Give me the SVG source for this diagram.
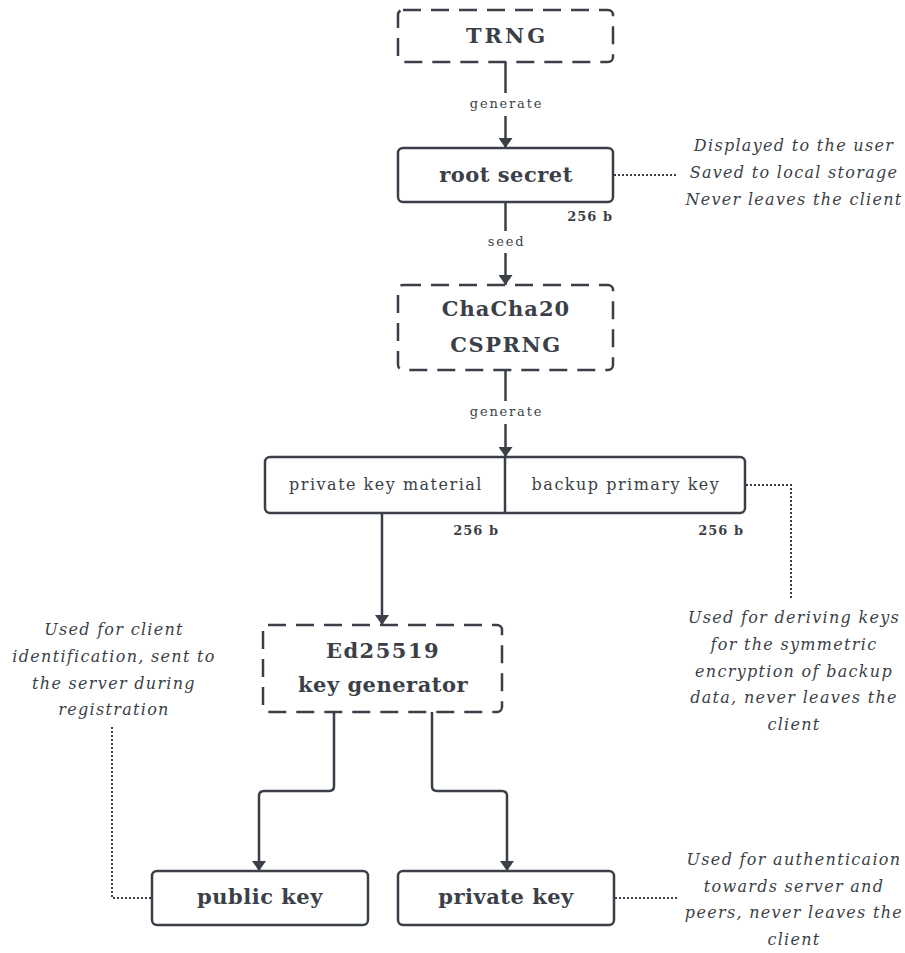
<svg xmlns="http://www.w3.org/2000/svg" width="905" height="953" viewBox="0 0 905 953">
<style>
.bg{fill:#ffffff}
.box{fill:#ffffff;stroke:#3a3f48;stroke-width:2.5}
.dash{stroke-dasharray:18 10}
.ln{fill:none;stroke:#3a3f48;stroke-width:2.5}
.dot{fill:none;stroke:#3a3f48;stroke-width:2;stroke-dasharray:2 2}
text{fill:#3a3f48;font-family:"DejaVu Serif","Liberation Serif",serif;text-anchor:middle}
.nt{font-size:21px;font-weight:bold;letter-spacing:0.5px}
.st{font-size:16px;letter-spacing:1.5px}
.lb{font-size:13px;letter-spacing:1.8px}
.sz{font-size:13px;font-weight:bold;letter-spacing:1px;text-anchor:end}
.an{font-size:16px;font-style:italic;letter-spacing:1.3px}
</style>
<defs>
<marker id="ah" viewBox="0 0 10 14" refX="10" refY="7" markerWidth="10" markerHeight="14" markerUnits="userSpaceOnUse" orient="auto">
<path d="M0,0 L10,7 L0,14 Z" fill="#3a3f48"/>
</marker>
</defs>
<rect class="bg" x="0" y="0" width="905" height="953"/>

<g id="connectors">
<line class="ln" x1="505.5" y1="62" x2="505.5" y2="93"/>
<line class="ln" x1="505.5" y1="116" x2="505.5" y2="148" marker-end="url(#ah)"/>
<text class="lb" x="506.5" y="108">generate</text>

<line class="ln" x1="505.5" y1="202" x2="505.5" y2="231"/>
<line class="ln" x1="505.5" y1="253" x2="505.5" y2="285" marker-end="url(#ah)"/>
<text class="lb" x="506.5" y="246">seed</text>

<line class="ln" x1="505.5" y1="370" x2="505.5" y2="401"/>
<line class="ln" x1="505.5" y1="424" x2="505.5" y2="457" marker-end="url(#ah)"/>
<text class="lb" x="506.5" y="416">generate</text>

<line class="ln" x1="382" y1="513" x2="382" y2="625" marker-end="url(#ah)"/>

<path class="ln" d="M334,712 V786 Q334,791 329,791 H264 Q259,791 259,796 V871" marker-end="url(#ah)"/>
<path class="ln" d="M432,712 V786 Q432,791 437,791 H502 Q507,791 507,796 V871" marker-end="url(#ah)"/>

<line class="dot" x1="614" y1="175" x2="676" y2="175"/>
<path class="dot" d="M746,485 H791 V598"/>
<path class="dot" d="M112,727 V898 H151"/>
<line class="dot" x1="615" y1="898" x2="677" y2="898"/>
</g>

<g id="trng">
<rect class="box dash" x="398" y="10" width="215" height="52" rx="5"/>
<text class="nt" x="507" y="43" style="letter-spacing:3px">TRNG</text>
</g>

<g id="root-secret">
<rect class="box" x="398" y="148" width="215" height="54" rx="5"/>
<text class="nt" x="506" y="182">root secret</text>
<text class="sz" x="613" y="221">256 b</text>
</g>

<g id="root-note">
<text class="an" x="794" y="151">Displayed to the user</text>
<text class="an" x="794" y="178">Saved to local storage</text>
<text class="an" x="794" y="205">Never leaves the client</text>
</g>

<g id="chacha">
<rect class="box dash" x="398" y="285" width="215" height="85" rx="5"/>
<text class="nt" x="506" y="316" style="letter-spacing:1px">ChaCha20</text>
<text class="nt" x="506" y="352" style="letter-spacing:1.5px">CSPRNG</text>
</g>

<g id="key-material">
<rect class="box" x="265" y="457" width="480" height="56" rx="5"/>
<line class="ln" x1="505" y1="457" x2="505" y2="513"/>
<text class="st" x="386" y="490">private key material</text>
<text class="st" x="626" y="490">backup primary key</text>
<text class="sz" x="499" y="535">256 b</text>
<text class="sz" x="744" y="535">256 b</text>
</g>

<g id="backup-note">
<text class="an" x="794" y="623">Used for deriving keys</text>
<text class="an" x="794" y="650">for the symmetric</text>
<text class="an" x="794" y="677">encryption of backup</text>
<text class="an" x="794" y="703">data, never leaves the</text>
<text class="an" x="794" y="730">client</text>
</g>

<g id="ed25519">
<rect class="box dash" x="263" y="625" width="239" height="87" rx="5"/>
<text class="nt" x="383" y="658" style="letter-spacing:1.5px">Ed25519</text>
<text class="nt" x="383" y="692">key generator</text>
</g>

<g id="public-note">
<text class="an" x="114" y="635">Used for client</text>
<text class="an" x="114" y="662">identification, sent to</text>
<text class="an" x="114" y="689">the server during</text>
<text class="an" x="114" y="715">registration</text>
</g>

<g id="public-key">
<rect class="box" x="152" y="871" width="216" height="54" rx="5"/>
<text class="nt" x="260" y="904">public key</text>
</g>

<g id="private-key">
<rect class="box" x="398" y="871" width="216" height="54" rx="5"/>
<text class="nt" x="506" y="904">private key</text>
</g>

<g id="private-note">
<text class="an" x="794" y="865">Used for authenticaion</text>
<text class="an" x="794" y="892">towards server and</text>
<text class="an" x="794" y="918">peers, never leaves the</text>
<text class="an" x="794" y="945">client</text>
</g>
</svg>
